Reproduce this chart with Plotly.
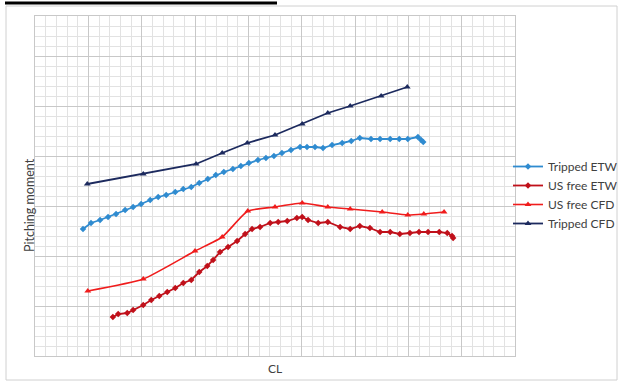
import plotly.graph_objects as go

# ---- data (CL, pitching moment in arbitrary units) ----
tripped_cfd_cl = [0.098, 0.203, 0.302, 0.351, 0.398, 0.450, 0.501, 0.549, 0.591, 0.649, 0.698]
tripped_cfd_cm = [0.172, 0.182, 0.192, 0.203, 0.213, 0.221, 0.232, 0.243, 0.250, 0.260, 0.269]

tripped_etw_cl = [0.090, 0.105, 0.122, 0.137, 0.152, 0.169, 0.184, 0.199, 0.216, 0.231,
                  0.246, 0.263, 0.278, 0.293, 0.308, 0.324, 0.339, 0.354, 0.371, 0.386,
                  0.401, 0.418, 0.433, 0.448, 0.463, 0.480, 0.497,
                  0.510, 0.525, 0.540, 0.557, 0.576, 0.593, 0.609, 0.630, 0.647, 0.666,
                  0.683, 0.699, 0.718, 0.724, 0.728]
tripped_etw_cm = [0.127, 0.133, 0.136, 0.139, 0.142, 0.146, 0.149, 0.152, 0.156, 0.159,
                  0.161, 0.164, 0.167, 0.169, 0.173, 0.177, 0.181, 0.184, 0.187, 0.190,
                  0.193, 0.196, 0.198, 0.200, 0.203, 0.206, 0.209,
                  0.209, 0.209, 0.208, 0.211, 0.213, 0.215, 0.218, 0.217, 0.217, 0.217,
                  0.217, 0.217, 0.219, 0.216, 0.214]

usfree_cfd_cl = [0.099, 0.203, 0.300, 0.351, 0.399, 0.450, 0.501, 0.549, 0.591, 0.651, 0.699, 0.729, 0.767]
usfree_cfd_cm = [0.065, 0.077, 0.105, 0.119, 0.145, 0.149, 0.153, 0.149, 0.147, 0.144, 0.141, 0.142, 0.144]

usfree_etw_cl = [0.146, 0.156, 0.173, 0.184, 0.203, 0.218, 0.233, 0.248, 0.263, 0.278,
                 0.293, 0.308, 0.323, 0.334, 0.347, 0.362, 0.379, 0.394, 0.407, 0.422,
                 0.441, 0.456, 0.473, 0.491, 0.501,
                 0.512, 0.531, 0.549, 0.572, 0.591, 0.609, 0.628, 0.647, 0.666, 0.684,
                 0.703, 0.720, 0.737, 0.758, 0.773, 0.782, 0.784]
usfree_etw_cm = [0.039, 0.042, 0.043, 0.046, 0.051, 0.056, 0.060, 0.064, 0.068, 0.073,
                 0.076, 0.084, 0.090, 0.096, 0.104, 0.109, 0.115, 0.122, 0.127, 0.129,
                 0.133, 0.134, 0.135, 0.138, 0.139,
                 0.136, 0.133, 0.134, 0.129, 0.127, 0.130, 0.128, 0.124, 0.124, 0.122,
                 0.123, 0.124, 0.124, 0.124, 0.123, 0.120, 0.118]

series_names = ["Tripped ETW", "US free ETW", "US free CFD", "Tripped CFD"]

fig = go.Figure()
fig.add_trace(go.Scatter(x=tripped_etw_cl, y=tripped_etw_cm, name=series_names[0], mode="lines+markers",
                         line=dict(color="#2f8bd0", width=1.8),
                         marker=dict(symbol="diamond", size=5, color="#2f8bd0")))
fig.add_trace(go.Scatter(x=usfree_etw_cl, y=usfree_etw_cm, name=series_names[1], mode="lines+markers",
                         line=dict(color="#c0101a", width=1.8),
                         marker=dict(symbol="diamond", size=5, color="#c0101a")))
fig.add_trace(go.Scatter(x=usfree_cfd_cl, y=usfree_cfd_cm, name=series_names[2], mode="lines+markers",
                         line=dict(color="#f01c1c", width=1.6, shape="spline", smoothing=0.5),
                         marker=dict(symbol="triangle-up", size=6, color="#f01c1c")))
fig.add_trace(go.Scatter(x=tripped_cfd_cl, y=tripped_cfd_cm, name=series_names[3], mode="lines+markers",
                         line=dict(color="#1c2a5e", width=1.8),
                         marker=dict(symbol="triangle-up", size=6, color="#1c2a5e")))

fig.update_layout(
    width=620, height=383,
    margin=dict(l=35, r=105, t=16, b=27, autoexpand=False),
    paper_bgcolor="white", plot_bgcolor="white",
    font=dict(family="Lato, Open Sans, sans-serif", size=12, color="#404040"),
    showlegend=True,
    legend=dict(xref="container", yref="container", x=508 / 620, y=1 - 152 / 383,
                xanchor="left", yanchor="top",
                font=dict(size=12, color="#404040"), itemwidth=30,
                bgcolor="rgba(0,0,0,0)", tracegroupgap=0),
    xaxis=dict(range=[0, 0.9], dtick=0.1, showticklabels=False, ticks="",
               showgrid=True, gridcolor="#c8c8c8", gridwidth=1, zeroline=False,
               showline=True, linecolor="#c8c8c8", mirror=True,
               minor=dict(dtick=0.02, showgrid=True, gridcolor="#e2e2e2", gridwidth=1)),
    yaxis=dict(range=[0, 0.34], dtick=0.05, showticklabels=False, ticks="",
               showgrid=True, gridcolor="#c8c8c8", gridwidth=1, zeroline=False,
               showline=True, linecolor="#c8c8c8", mirror=True,
               minor=dict(dtick=0.01, showgrid=True, gridcolor="#e2e2e2", gridwidth=1)),
)

# axis titles
fig.add_annotation(text="CL", xref="paper", yref="paper", x=(275 - 35) / 480, y=-(368 - 356) / 340,
                   showarrow=False, font=dict(size=12, color="#404040"), xanchor="center", yanchor="middle")
fig.add_annotation(text="Pitching moment", xref="paper", yref="paper", x=-(35 - 29) / 480, y=(356 - 205) / 340,
                   showarrow=False, textangle=-90, font=dict(size=12.5, color="#404040"),
                   xanchor="center", yanchor="middle")

# chart border and top black rule
fig.add_shape(type="rect", xref="paper", yref="paper",
              x0=-(35 - 6) / 480, x1=(617 - 35) / 480, y0=-(380 - 356) / 340, y1=(356 - 6) / 340,
              line=dict(color="#d0d0d0", width=1), fillcolor="rgba(0,0,0,0)", layer="below")
fig.add_shape(type="line", xref="paper", yref="paper",
              x0=-(35 - 5) / 480, x1=(277 - 35) / 480, y0=(356 - 3) / 340, y1=(356 - 3) / 340,
              line=dict(color="black", width=3))

fig.write_html("out.html")
